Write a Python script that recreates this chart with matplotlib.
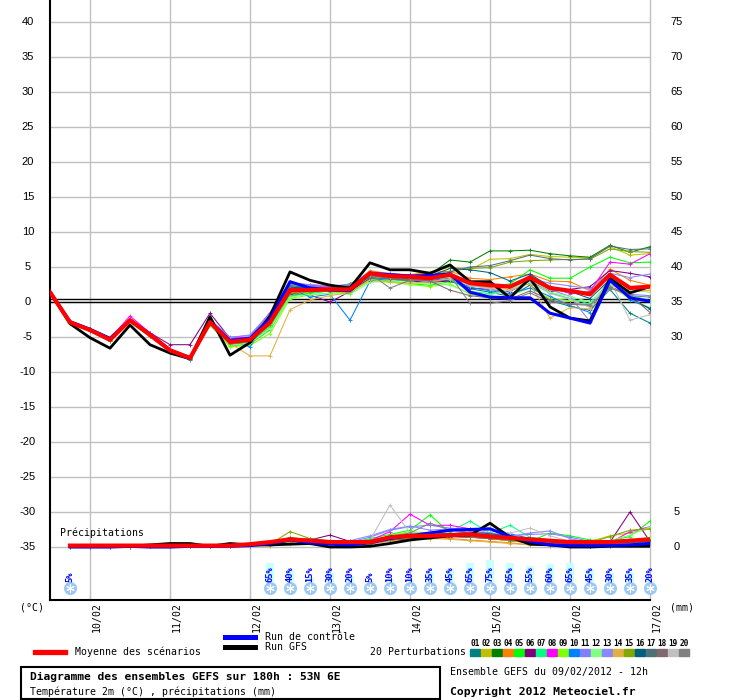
import numpy as np
import matplotlib.pyplot as plt
from matplotlib.patches import Rectangle
from matplotlib.lines import Line2D

# echeances (heures depuis le 09/02 12h)
heures = np.arange(0, 181, 6)
heures_pluie = heures[1:]

# temperature 2m : moyenne, run de controle, run GFS
moyenne_t = [1.4, -2.9, -4.0, -5.4, -2.6, -4.7, -6.9, -8.0, -2.9, -5.7, -5.4, -2.9, 1.7, 1.7, 1.8, 1.8,
             4.1, 3.7, 3.6, 3.4, 3.9, 2.7, 2.4, 2.2, 3.5, 2.0, 1.6, 1.1, 3.9, 2.0, 2.2]
controle_t = [1.4, -2.8, -3.9, -5.2, -2.6, -4.6, -6.9, -8.1, -2.8, -5.5, -5.2, -2.4, 2.9, 2.0, 1.7, 1.6,
              4.1, 3.9, 3.7, 3.8, 4.0, 1.4, 0.7, 0.6, 0.6, -1.6, -2.3, -3.0, 3.1, 0.6, 0.1]
gfs_t = [1.4, -3.1, -5.1, -6.6, -3.3, -6.1, -7.3, -8.1, -2.1, -7.6, -5.8, -2.0, 4.3, 3.1, 2.4, 2.0,
         5.6, 4.6, 4.6, 4.1, 5.3, 2.9, 2.9, 0.6, 3.4, -0.7, -2.3, -2.7, 3.4, 1.3, 2.2]

# temperature 2m : 20 perturbations
p01_t = [1.4, -2.8, -4.1, -5.2, -2.9, -4.9, -7.1, -8.3, -3.0, -5.9, -5.0, -1.8, 2.4, 1.9, 1.5, 1.6, 3.6, 3.9, 3.4, 3.0, 3.1, 1.9, 1.4, 0.8, 2.4, 0.2, -0.6, -1.2, 1.8, -1.6, -3.0]
p02_t = [1.4, -3.0, -3.9, -5.5, -2.7, -4.6, -6.8, -7.9, -3.1, -5.8, -5.6, -3.4, 1.0, 1.5, 2.0, 2.3, 3.8, 3.5, 3.9, 4.3, 5.0, 4.6, 6.1, 6.2, 6.8, 6.5, 6.4, 6.3, 7.9, 6.7, 6.9]
p03_t = [1.4, -2.9, -4.2, -5.6, -2.8, -4.8, -7.0, -8.1, -2.8, -6.0, -5.3, -2.5, 1.8, 2.2, 2.0, 2.6, 4.0, 3.6, 3.3, 3.9, 6.0, 5.7, 7.3, 7.3, 7.4, 6.9, 6.6, 6.4, 8.1, 7.1, 7.9]
p04_t = [1.4, -2.8, -3.9, -5.3, -2.5, -4.5, -6.8, -7.8, -2.7, -5.5, -5.2, -2.0, 2.5, 2.3, 2.1, 2.2, 4.5, 4.0, 3.8, 4.2, 4.4, 3.4, 3.2, 3.6, 4.0, 3.0, 2.9, 1.6, 4.7, 3.1, 2.4]
p05_t = [1.4, -3.0, -4.1, -5.5, -2.8, -4.8, -7.0, -8.2, -3.3, -6.3, -6.0, -4.0, 0.8, 1.3, 1.6, 1.2, 3.3, 3.0, 2.6, 2.4, 2.9, 2.3, 2.2, 2.6, 4.6, 3.4, 3.4, 5.0, 6.4, 5.6, 5.7]
p06_t = [1.4, -2.7, -3.8, -5.1, -2.4, -4.4, -6.1, -6.1, -1.6, -5.2, -5.1, -2.6, 1.2, 1.0, 0.0, 1.5, 3.4, 3.3, 3.0, 2.8, 3.0, 2.0, 1.8, 1.5, 3.0, 1.5, 1.8, 2.2, 4.5, 4.1, 3.6]
p07_t = [1.4, -2.9, -4.0, -5.4, -2.7, -4.7, -6.9, -8.0, -3.0, -6.1, -5.8, -3.6, 0.9, 1.2, 1.6, 1.9, 3.5, 3.2, 2.9, 3.6, 3.2, 1.5, 1.2, 1.7, 2.7, 1.3, 0.5, -0.3, 3.0, 1.0, 0.2]
p08_t = [1.4, -2.8, -3.9, -5.2, -2.0, -4.4, -6.7, -7.8, -2.7, -5.2, -5.0, -1.5, 2.8, 2.4, 2.2, 2.0, 4.2, 4.0, 3.9, 3.5, 4.1, 2.8, 2.5, 2.0, 3.8, 2.1, 1.2, 1.5, 5.7, 5.4, 6.9]
p09_t = [1.4, -3.0, -4.1, -5.6, -2.9, -4.9, -7.1, -8.2, -3.2, -6.4, -6.2, -4.5, 0.5, 1.0, 1.3, 1.4, 3.0, 2.8, 2.5, 2.2, 2.6, 1.1, 0.6, 0.9, 2.0, 0.5, 0.2, -0.6, 2.4, 0.4, -0.8]
p10_t = [1.4, -2.8, -4.0, -5.3, -2.6, -4.6, -6.8, -7.9, -2.9, -5.6, -6.4, -2.2, 2.0, 0.7, 1.1, -2.6, 3.0, 3.4, 3.2, 3.1, 3.4, 2.1, 1.6, 1.2, 2.0, 0.8, -0.5, -1.5, 3.6, 0.3, -0.9]
p11_t = [1.4, -2.8, -3.9, -5.2, -2.5, -4.5, -6.7, -7.8, -2.5, -5.0, -4.8, -1.8, 2.6, 2.3, 2.0, 2.4, 4.0, 3.8, 3.4, 3.2, 3.6, 2.4, 2.0, 0.8, 3.6, 1.8, 0.8, -2.8, 2.6, 1.1, 0.9]
p12_t = [1.4, -2.9, -4.1, -5.5, -2.8, -4.8, -7.0, -8.1, -3.1, -6.2, -5.9, -3.8, 0.7, 1.1, 1.2, 1.1, 2.8, 3.0, 2.6, 2.7, 2.4, 1.3, 1.0, 1.8, 3.2, 1.4, 0.8, 0.0, 2.6, 1.7, 1.4]
p13_t = [1.4, -2.8, -4.0, -5.3, -2.6, -4.6, -6.8, -7.9, -2.6, -5.1, -4.7, -1.6, 2.7, 2.5, 2.3, 2.5, 4.3, 4.1, 3.8, 3.6, 3.7, 2.6, 2.3, 2.1, 3.3, 2.7, 2.3, 1.9, 4.1, 3.5, 4.0]
p14_t = [1.4, -2.9, -4.0, -5.4, -2.7, -4.7, -6.9, -8.0, -3.0, -5.9, -7.7, -7.7, -1.1, 0.3, 0.9, 1.4, 3.2, 2.9, 2.7, 2.9, 3.3, 2.5, 2.0, 1.8, 2.6, -2.3, -0.8, -1.0, 2.0, 1.4, 1.7]
p15_t = [1.4, -2.9, -4.0, -5.4, -2.6, -4.7, -6.9, -8.0, -3.0, -6.0, -5.7, -3.3, 1.3, 1.5, 1.7, 1.9, 3.8, 3.3, 3.0, 3.8, 4.4, 4.8, 4.9, 5.7, 5.9, 6.0, 6.1, 6.1, 7.6, 7.2, 7.1]
p16_t = [1.4, -2.8, -3.9, -5.3, -2.5, -4.6, -6.8, -8.0, -2.8, -5.6, -5.3, -2.4, 2.1, 2.0, 1.9, 2.1, 4.2, 3.9, 3.8, 3.7, 4.8, 4.6, 4.2, 3.0, 4.0, 2.2, 1.5, 0.5, 3.2, 0.6, -1.0]
p17_t = [1.4, -2.8, -4.0, -5.3, -2.6, -4.7, -6.9, -8.0, -2.7, -5.6, -5.4, -2.7, 2.3, 2.1, 2.0, 2.3, 3.5, 3.3, 3.1, 3.3, 4.3, 5.0, 5.2, 5.9, 6.7, 6.2, 6.0, 6.2, 8.0, 7.5, 7.6]
p18_t = [1.4, -2.9, -4.1, -5.5, -2.7, -4.8, -7.0, -8.1, -2.9, -5.9, -5.6, -3.0, 1.5, 1.6, 1.6, 1.8, 3.7, 3.4, 3.2, 3.0, 1.7, 0.9, 0.6, 0.4, 1.6, 0.3, -0.3, -0.5, 2.2, 1.0, -1.5]
p19_t = [1.4, -2.9, -4.0, -5.4, -2.7, -4.7, -6.8, -7.9, -2.9, -5.7, -5.5, -2.8, 1.8, 1.7, 1.9, 2.0, 3.9, 3.6, 3.5, 3.3, 3.5, 2.3, 1.9, 1.6, 2.9, 1.2, 0.4, -0.8, 3.1, -2.6, -1.8]
p20_t = [1.4, -2.9, -4.1, -5.4, -2.7, -4.8, -6.9, -8.0, -2.8, -5.7, -5.4, -2.7, 1.9, 1.8, 1.7, 1.9, 4.0, 2.0, 3.1, 3.2, 3.8, -0.2, -0.2, 0.2, 1.3, 0.0, -0.2, -0.4, 2.0, 0.9, 0.7]

# precipitations (mm), a partir de +6h
moyenne_p = [0.2, 0.2, 0.2, 0.2, 0.2, 0.2, 0.2, 0.2, 0.2, 0.4, 0.7, 1.1, 0.9, 0.7, 0.7, 0.7, 1.4, 1.6, 1.6, 1.7, 1.8, 1.5, 1.3, 1.1, 0.9, 0.7, 0.7, 0.7, 0.9, 1.1]
controle_p = [0.0, 0.0, 0.0, 0.1, 0.0, 0.0, 0.1, 0.1, 0.1, 0.2, 0.5, 1.0, 0.6, 0.4, 0.3, 0.6, 1.2, 1.6, 2.0, 2.4, 2.5, 2.6, 1.5, 0.8, 0.3, 0.2, 0.2, 0.2, 0.3, 0.5]
gfs_p = [0.1, 0.1, 0.1, 0.1, 0.3, 0.5, 0.5, 0.1, 0.5, 0.3, 0.3, 0.4, 0.5, 0.0, 0.0, 0.1, 0.5, 1.0, 1.3, 1.6, 1.7, 3.4, 1.4, 0.4, 0.3, 0.0, 0.0, 0.1, 0.1, 0.1]

p01_p = [0, 0, 0.1, 0.1, 0.1, 0.1, 0.1, 0.1, 0.1, 0.2, 0.6, 0.9, 0.8, 0.6, 0.4, 0.7, 1.0, 1.4, 1.5, 1.6, 1.9, 1.6, 1.2, 0.9, 0.6, 0.3, 0.2, 0.3, 0.4, 0.6]
p02_p = [0, 0, 0, 0.1, 0.1, 0.1, 0.1, 0.1, 0.1, 0.2, 0.4, 1.4, 1.0, 0.7, 0.5, 0.4, 1.1, 1.2, 1.3, 1.5, 1.4, 1.2, 1.0, 0.8, 0.6, 0.4, 0.8, 1.6, 2.0, 2.6]
p03_p = [0, 0, 0, 0, 0.1, 0.1, 0.1, 0.1, 0.1, 0.2, 0.5, 0.9, 0.9, 0.5, 0.4, 0.5, 1.2, 1.5, 1.7, 1.8, 1.6, 1.3, 1.1, 0.8, 0.5, 0.3, 0.3, 0.2, 0.3, 0.4]
p04_p = [0, 0, 0, 0, 0.1, 0.1, 0.1, 0.1, 0.1, 0.2, 0.3, 0.6, 1.2, 0.8, 0.5, 0.4, 0.9, 1.1, 1.4, 1.2, 1.0, 0.8, 0.6, 0.3, 0.2, 0.1, 0.2, 0.9, 1.1, 0.8]
p05_p = [0, 0, 0, 0, 0.1, 0.1, 0.1, 0.1, 0.2, 0.2, 0.6, 1.0, 0.7, 0.6, 0.5, 1.2, 1.8, 2.4, 4.6, 2.0, 1.6, 1.4, 1.0, 0.8, 2.0, 1.6, 1.0, 0.9, 1.5, 3.7]
p06_p = [0, 0, 0, 0, 0.1, 0.1, 0.1, 0.1, 0.1, 0.2, 0.5, 0.9, 1.0, 1.7, 0.8, 0.6, 1.0, 1.2, 1.4, 1.5, 1.4, 1.2, 0.9, 0.6, 0.4, 0.2, 0.2, 0.7, 5.0, 0.8]
p07_p = [0, 0, 0, 0, 0.1, 0.1, 0.1, 0.1, 0.1, 0.2, 0.5, 1.0, 0.9, 0.7, 0.6, 0.7, 1.5, 2.0, 1.9, 2.2, 3.7, 2.0, 3.1, 1.4, 1.0, 0.5, 0.4, 0.5, 0.7, 1.0]
p08_p = [0, 0, 0, 0, 0.1, 0.1, 0.1, 0.1, 0.1, 0.2, 0.6, 1.2, 1.0, 0.8, 0.6, 0.9, 2.2, 4.7, 3.1, 3.1, 2.6, 1.8, 1.2, 0.9, 0.6, 0.4, 0.3, 0.6, 2.2, 2.9]
p09_p = [0, 0, 0, 0, 0.1, 0.1, 0.1, 0.1, 0.1, 0.2, 0.4, 0.8, 0.7, 0.6, 0.5, 0.6, 1.6, 2.2, 2.0, 1.8, 1.6, 1.2, 0.9, 0.6, 0.4, 0.3, 0.3, 0.4, 0.8, 1.4]
p10_p = [0, 0, 0, 0, 0.1, 0.1, 0.1, 0.1, 0.1, 0.2, 0.7, 1.3, 1.0, 0.7, 0.6, 0.8, 1.4, 1.8, 2.1, 2.3, 2.6, 2.5, 1.9, 1.2, 0.6, 0.3, 0.2, 0.3, 0.5, 0.7]
p11_p = [0, 0, 0, 0, 0.1, 0.1, 0.1, 0.1, 0.1, 0.2, 0.5, 1.0, 0.9, 0.8, 0.7, 1.4, 2.4, 2.9, 3.1, 2.7, 2.5, 2.0, 1.6, 1.8, 1.9, 1.4, 0.8, 0.6, 0.5, 0.6]
p12_p = [0, 0, 0, 0, 0.1, 0.1, 0.1, 0.1, 0.1, 0.2, 0.4, 0.8, 0.8, 0.6, 0.5, 0.6, 1.1, 1.9, 2.0, 1.8, 1.5, 1.3, 1.1, 0.7, 0.5, 0.4, 0.3, 0.9, 1.7, 2.9]
p13_p = [0, 0, 0, 0, 0.1, 0.1, 0.1, 0.1, 0.1, 0.2, 0.5, 0.9, 0.9, 0.7, 0.9, 1.6, 2.5, 3.0, 2.4, 2.6, 2.3, 1.9, 1.5, 2.0, 2.3, 1.2, 0.6, 0.4, 0.4, 0.5]
p14_p = [0, 0, 0, 0, 0.1, 0.1, 0.1, 0.1, 0.1, 0.1, 0.2, 0.4, 0.6, 0.5, 0.4, 0.5, 0.8, 1.0, 1.2, 1.1, 0.9, 0.7, 0.5, 0.3, 0.2, 0.2, 0.3, 0.8, 0.6, 0.5]
p15_p = [0, 0, 0, 0, 0.1, 0.1, 0.1, 0.1, 0.1, 0.2, 0.4, 2.2, 1.2, 0.9, 0.6, 0.5, 1.0, 1.3, 1.4, 1.6, 1.5, 1.2, 0.9, 0.7, 0.5, 0.4, 0.6, 1.5, 2.4, 2.6]
p16_p = [0, 0, 0, 0, 0.1, 0.1, 0.1, 0.1, 0.1, 0.2, 0.5, 1.0, 0.9, 0.7, 0.6, 0.8, 1.3, 1.6, 1.8, 1.9, 2.1, 1.9, 1.5, 1.0, 0.7, 0.4, 0.3, 0.4, 0.6, 0.8]
p17_p = [0, 0, 0, 0, 0.1, 0.1, 0.1, 0.1, 0.1, 0.2, 0.5, 0.9, 1.0, 0.8, 0.7, 0.8, 1.2, 1.5, 1.7, 1.9, 2.0, 1.8, 1.4, 1.1, 0.8, 0.5, 0.4, 0.4, 0.5, 0.7]
p18_p = [0, 0, 0, 0, 0.1, 0.1, 0.1, 0.1, 0.1, 0.2, 0.4, 0.8, 0.8, 0.7, 0.6, 0.7, 1.1, 1.4, 1.6, 1.5, 1.4, 1.2, 1.0, 0.8, 0.6, 0.4, 0.3, 0.3, 0.4, 0.5]
p19_p = [0, 0, 0, 0, 0.1, 0.1, 0.1, 0.1, 0.1, 0.2, 0.5, 0.9, 0.8, 0.7, 0.6, 1.0, 6.0, 2.0, 1.8, 1.6, 2.0, 2.4, 2.0, 2.7, 1.6, 0.8, 0.5, 0.4, 0.4, 0.5]
p20_p = [0, 0, 0, 0, 0.1, 0.1, 0.1, 0.1, 0.1, 0.2, 0.5, 1.0, 1.2, 0.8, 0.8, 1.0, 1.5, 2.0, 3.4, 2.4, 2.1, 1.7, 1.4, 1.1, 0.7, 0.5, 0.4, 0.5, 0.5, 0.6]

couleurs = ['#008080', '#c0c000', '#008000', '#ff8000', '#00ff00', '#800080', '#00ff80', '#ff00ff',
            '#80ff00', '#0080ff', '#8080ff', '#80ff80', '#8888ff', '#e0b040', '#80a800', '#006080',
            '#507078', '#806870', '#c0c0c0', '#808080']
perturb_t = [p01_t, p02_t, p03_t, p04_t, p05_t, p06_t, p07_t, p08_t, p09_t, p10_t,
             p11_t, p12_t, p13_t, p14_t, p15_t, p16_t, p17_t, p18_t, p19_t, p20_t]
perturb_p = [p01_p, p02_p, p03_p, p04_p, p05_p, p06_p, p07_p, p08_p, p09_p, p10_p,
             p11_p, p12_p, p13_p, p14_p, p15_p, p16_p, p17_p, p18_p, p19_p, p20_p]

# probabilite de neige
neige_heures = [6, 66, 72, 78, 84, 90, 96, 102, 108, 114, 120, 126, 132, 138, 144, 150, 156, 162, 168, 174, 180]
neige_pct = [5, 65, 40, 15, 30, 20, 5, 10, 10, 35, 45, 65, 75, 65, 55, 60, 65, 45, 30, 35, 20]

jours_heures = [12, 36, 60, 84, 108, 132, 156, 180]
jours_labels = ['10/02', '11/02', '12/02', '13/02', '14/02', '15/02', '16/02', '17/02']

BASE_PLUIE = -35  # 0 mm dessine sur -35 degres
MONO = 'DejaVu Sans Mono'

fig = plt.figure(figsize=(7.4, 7.0), dpi=100)
W, H = 740.0, 700.0
ax = fig.add_axes([50 / W, 100 / H, 600 / W, 600 / H])
ax.set_xlim(0, 180)
ax.set_ylim((302 - 600) / 7.0, 302 / 7.0)

for v in range(-35, 41, 5):
    ax.axhline(v, color='#c0c0c0', lw=1, zorder=0)
for h in jours_heures:
    ax.axvline(h, color='#c0c0c0', lw=1, zorder=0, clip_on=False)
ax.axhline(0, color='black', lw=1, zorder=1)
ax.axhline(0.45, color='black', lw=1, zorder=1)

for spine in ['top', 'right']:
    ax.spines[spine].set_visible(False)
ax.spines['left'].set_linewidth(1.5)
ax.spines['bottom'].set_linewidth(1.5)
ax.set_xticks([])
ax.set_yticks([])

# perturbations
for serie, c in zip(perturb_t, couleurs):
    ax.plot(heures, serie, color=c, lw=0.75, marker='+', ms=2.5, mew=0.6, zorder=2)
for serie, c in zip(perturb_p, couleurs):
    ax.plot(heures_pluie, BASE_PLUIE + np.array(serie), color=c, lw=0.75, marker='+', ms=2.5, mew=0.6, zorder=2)

ax.plot(heures, gfs_t, color='black', lw=2.0, zorder=3)
ax.plot(heures, controle_t, color='#0000ff', lw=2.2, zorder=4)
ax.plot(heures, moyenne_t, color='#ff0000', lw=3.0, zorder=5)
ax.plot(heures_pluie, BASE_PLUIE + np.array(gfs_p), color='black', lw=2.0, zorder=3)
ax.plot(heures_pluie, BASE_PLUIE + np.array(controle_p), color='#0000ff', lw=2.2, zorder=4)
ax.plot(heures_pluie, BASE_PLUIE + np.array(moyenne_p), color='#ff0000', lw=3.0, zorder=5)

# neige
haut = np.array(neige_pct) * 0.3 / 7.0
ax.bar(neige_heures, haut, bottom=-40, width=2.4, color='#c8ffff', zorder=1)
ax.scatter(neige_heures, [-40.85] * len(neige_heures), s=70, color='#9cc8f4', zorder=6, clip_on=False)
ax.scatter(neige_heures, [-40.85] * len(neige_heures), s=30, marker=(6, 2, 0), color='white', lw=0.8,
           zorder=7, clip_on=False)
for h, p in zip(neige_heures, neige_pct):
    ax.text(h, -40.05, f'{p}%', rotation=90, ha='center', va='bottom', color='#0000ff',
            fontsize=6.3, family=MONO, fontweight='bold', zorder=8)

ax.text(10 * 180 / 600, -33.7, 'Précipitations', family=MONO, fontsize=7.1, va='bottom', ha='left')

# axes labels
yt = ax.get_yaxis_transform()
for v in range(-35, 41, 5):
    ax.text(-0.037, v, str(v), transform=yt, ha='center', va='center', fontsize=8, family='Liberation Sans')
for v in range(-5, 41, 5):
    ax.text(1.045, v, str(v + 35), transform=yt, ha='center', va='center', fontsize=8, family='Liberation Sans')
for v in [0, 5]:
    ax.text(1.045, BASE_PLUIE + v, str(v), transform=yt, ha='center', va='center', fontsize=8,
            family='Liberation Sans')

def fx(x):
    return x / W

def fy(y):
    return 1 - y / H

for h, lab in zip(jours_heures, jours_labels):
    xp = 50 + h * 600 / 180 + 7
    fig.text(fx(xp), fy(602), lab, rotation=90, ha='center', va='top', family=MONO, fontsize=7.1)
fig.text(fx(20), fy(607), '(°C)', family=MONO, fontsize=7.1, va='center', ha='left')
fig.text(fx(670), fy(607), '(mm)', family=MONO, fontsize=7.1, va='center', ha='left')

# legende
fig.add_artist(Line2D([fx(35), fx(65)], [fy(652), fy(652)], color='#ff0000', lw=3.8))
fig.text(fx(75), fy(652), 'Moyenne des scénarios', family=MONO, fontsize=7.1, va='center')
fig.add_artist(Line2D([fx(225), fx(255)], [fy(637), fy(637)], color='#0000ff', lw=3.6))
fig.text(fx(265), fy(637), 'Run de contrôle', family=MONO, fontsize=7.1, va='center')
fig.add_artist(Line2D([fx(225), fx(255)], [fy(647), fy(647)], color='black', lw=3.6))
fig.text(fx(265), fy(647), 'Run GFS', family=MONO, fontsize=7.1, va='center')
fig.text(fx(370), fy(652), '20 Perturbations', family=MONO, fontsize=7.1, va='center')
for i, c in enumerate(couleurs):
    x0 = 470 + 11 * i
    fig.add_artist(Rectangle((fx(x0), fy(656)), 10 / W, 7 / H, color=c, transform=fig.transFigure))
    fig.text(fx(x0 + 5), fy(644), f'{i + 1:02d}', family=MONO, fontsize=5.6, fontweight='bold',
             ha='center', va='center')

fig.add_artist(Rectangle((fx(21), fy(699)), 419 / W, 32 / H, fill=False, edgecolor='black', lw=1.5,
                         transform=fig.transFigure))
fig.text(fx(30), fy(677), 'Diagramme des ensembles GEFS sur 180h : 53N 6E', family=MONO, fontsize=8.1,
         fontweight='bold', va='center')
fig.text(fx(30), fy(692), 'Température 2m (°C) , précipitations (mm)', family=MONO, fontsize=7.1,
         va='center')
fig.text(fx(450), fy(672), 'Ensemble GEFS du 09/02/2012 - 12h', family=MONO, fontsize=7.1, va='center')
fig.text(fx(450), fy(692), 'Copyright 2012 Meteociel.fr', family=MONO, fontsize=8.2, fontweight='bold',
         va='center')

fig.savefig('out.png', dpi=100)
